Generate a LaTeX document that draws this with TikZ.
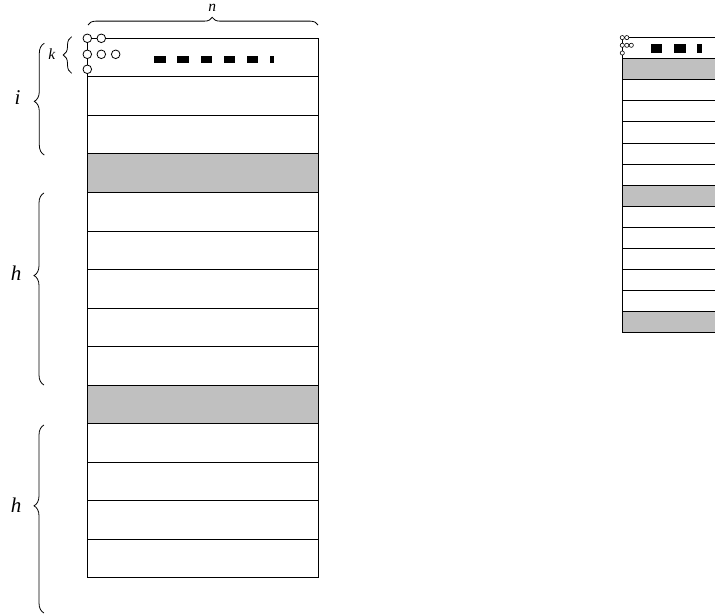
\documentclass[tikz,border=0pt]{standalone}
\usepackage{fontspec}
\setmainfont{Liberation Serif}
\usetikzlibrary{decorations.pathreplacing}
\definecolor{bandgray}{RGB}{192,192,192}
\begin{document}
\begin{tikzpicture}[x=1pt,y=-1pt,line width=0.9pt,
  rowbox/.style={draw=black,inner sep=0pt,outer sep=0pt,anchor=north west},
  firstrow/.style={inner sep=0pt,outer sep=0pt,anchor=north west},
  bigdot/.style={circle,draw=black,fill=white,inner sep=0pt,outer sep=0pt,minimum size=8.6pt,line width=0.8pt},
  smalldot/.style={circle,draw=black,fill=white,inner sep=0pt,outer sep=0pt,minimum size=4.2pt,line width=0.6pt},
  blk/.style={fill=black,draw=none,inner sep=0pt,outer sep=0pt,anchor=north west},
  bracestyle/.style={decorate,line width=0.8pt},
  biglabel/.style={font=\fontsize{21}{24}\selectfont\itshape,inner sep=0pt},
  smalllabel/.style={font=\fontsize{15.5}{18}\selectfont\itshape,inner sep=0pt}]
\clip (0,0) rectangle (715,615);
\useasboundingbox (0,0) rectangle (715,615);

% ---------- left figure ----------
\def\LX{87.3}\def\LW{230.7}\def\LT{38.3}\def\LH{38.53}
\node[firstrow,minimum width=\LW pt,minimum height=\LH pt] (L1) at (\LX,\LT) {};
\foreach \i in {2,...,14}{
  \pgfmathsetmacro{\yy}{\LT+(\i-1)*\LH}
  \ifnum\i=4 \def\fc{bandgray}\else\ifnum\i=10 \def\fc{bandgray}\else\def\fc{white}\fi\fi
  \node[rowbox,fill=\fc,minimum width=\LW pt,minimum height=\LH pt] (L\i) at (\LX,\yy) {};
}
\node[bigdot] (c1) at (87.3,38.3) {};
\node[bigdot] (c2) at (101.3,38.3) {};
\node[bigdot] (c3) at (87.3,54.3) {};
\node[bigdot] (c4) at (101.3,54.3) {};
\node[bigdot] (c5) at (115.7,54.3) {};
\node[bigdot] (c6) at (87.3,69.3) {};
\draw (c1) -- (c2);
\draw (c1) -- (c3);
\draw (c3) -- (c6);
\draw (c6.south) -- (L1.south west);
\draw (c2.east) -- (L1.north east) -- (L1.south east);
\foreach \k/\xx/\ww in {1/154.3/11.4,2/177.3/11.4,3/200.5/11.4,4/223.7/11.4,5/247/11.4,6/270.3/3.4}{
  \node[blk,minimum width=\ww pt,minimum height=7.6pt] (s\k) at (\xx,55.8) {};
}

% braces
\draw[bracestyle,decoration={brace,amplitude=7.7pt,aspect=0.54}] (88,25) -- (318,25);
\node[smalllabel] (ln) at (212.3,8.3) {n};
\draw[bracestyle,decoration={brace,amplitude=8.4pt,aspect=0.5}] (71.7,73.3) -- (71.7,36.7);
\node[smalllabel] (lk) at (51.7,54) {k};
\draw[bracestyle,decoration={brace,amplitude=10pt,aspect=0.48}] (44.3,155) -- (44.3,43.3);
\node[biglabel] (li) at (17.5,98) {i};
\draw[bracestyle,decoration={brace,amplitude=10pt,aspect=0.57}] (44,385) -- (44,193);
\node[biglabel] (lh1) at (16,273) {h};
\draw[bracestyle,decoration={brace,amplitude=10pt,aspect=0.57}] (44,613) -- (44,425);
\node[biglabel] (lh2) at (16,505) {h};

% ---------- right figure ----------
\def\RX{622.3}\def\RW{126}\def\RT{37.6}\def\RH{21.08}
\node[firstrow,minimum width=\RW pt,minimum height=\RH pt] (R1) at (\RX,\RT) {};
\foreach \i in {2,...,14}{
  \pgfmathsetmacro{\yy}{\RT+(\i-1)*\RH}
  \ifnum\i=2 \def\fc{bandgray}\else\ifnum\i=8 \def\fc{bandgray}\else\ifnum\i=14 \def\fc{bandgray}\else\def\fc{white}\fi\fi\fi
  \node[rowbox,fill=\fc,minimum width=\RW pt,minimum height=\RH pt] (R\i) at (\RX,\yy) {};
}
\node[smalldot] (d1) at (622.3,37.6) {};
\node[smalldot] (d2) at (626.8,37.6) {};
\node[smalldot] (d3) at (622.3,45.3) {};
\node[smalldot] (d4) at (626.8,45.3) {};
\node[smalldot] (d5) at (631.3,45.3) {};
\node[smalldot] (d6) at (622.3,53) {};
\draw[line width=0.6pt] (d1) -- (d2);
\draw[line width=0.6pt] (d1) -- (d3);
\draw[line width=0.6pt] (d3) -- (d6);
\draw (d6.south) -- (R1.south west);
\draw (d2.east) -- (R1.north east) -- (R1.south east);
\foreach \k/\xx/\ww in {1/651/11.3,2/674.3/11.4,3/697.3/4.4}{
  \node[blk,minimum width=\ww pt,minimum height=8.7pt] (t\k) at (\xx,44) {};
}
\end{tikzpicture}
\end{document}
